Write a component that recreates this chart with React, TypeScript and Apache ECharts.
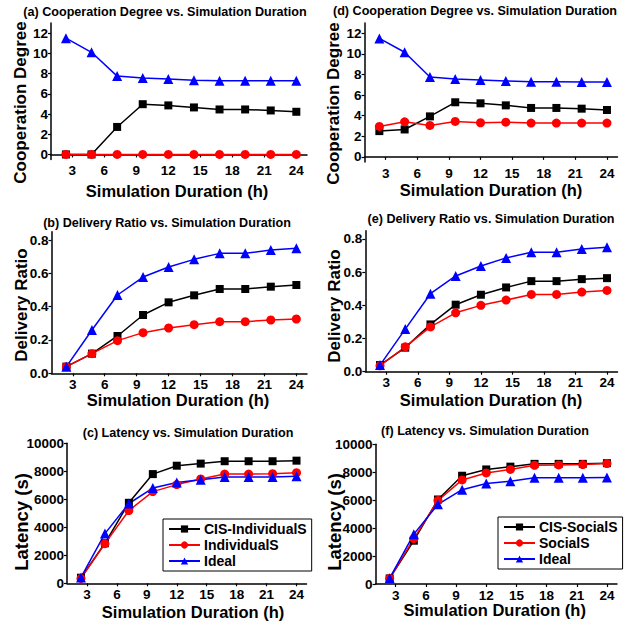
import React, { useEffect, useRef } from "react";
import * as echarts from "echarts";

const durations = [2.4, 4.8, 7.2, 9.6, 12, 14.4, 16.8, 19.2, 21.6, 24];
const xTicks = [3, 6, 9, 12, 15, 18, 21, 24];
const coopTicks = [0, 2, 4, 6, 8, 10, 12];
const ratioTicks = [0, 0.2, 0.4, 0.6, 0.8];
const latencyTicks = [0, 2000, 4000, 6000, 8000, 10000];

// (a) cooperation degree, individual
const coopCISIndividualS = [0, 0, 2.72, 4.97, 4.85, 4.65, 4.45, 4.45, 4.35, 4.22];
const coopIndividualS = [0, 0, 0, 0, 0, 0, 0, 0, 0, 0];
const coopIdealA = [11.5, 10.1, 7.75, 7.55, 7.45, 7.35, 7.3, 7.3, 7.28, 7.28];
// (d) cooperation degree, social
const coopCISSocialS = [2.5, 2.66, 3.93, 5.3, 5.2, 5.0, 4.75, 4.75, 4.68, 4.55];
const coopSocialS = [2.95, 3.4, 3.05, 3.44, 3.31, 3.37, 3.28, 3.28, 3.28, 3.28];
const coopIdealD = [11.5, 10.16, 7.76, 7.56, 7.47, 7.37, 7.3, 7.3, 7.27, 7.27];
// (b) delivery ratio, individual
const ratioCISIndividualS = [0.04, 0.118, 0.224, 0.35, 0.426, 0.468, 0.506, 0.506, 0.52, 0.53];
const ratioIndividualS = [0.04, 0.118, 0.196, 0.244, 0.272, 0.292, 0.31, 0.31, 0.32, 0.326];
const ratioIdealB = [0.04, 0.26, 0.47, 0.578, 0.638, 0.684, 0.72, 0.72, 0.74, 0.75];
// (e) delivery ratio, social
const ratioCISSocialS = [0.04, 0.145, 0.285, 0.404, 0.464, 0.508, 0.546, 0.546, 0.558, 0.564];
const ratioSocialS = [0.036, 0.15, 0.27, 0.355, 0.4, 0.432, 0.466, 0.466, 0.48, 0.49];
const ratioIdealE = [0.04, 0.257, 0.47, 0.577, 0.637, 0.686, 0.72, 0.72, 0.74, 0.75];
// (c) latency, individual
const latCISIndividualS = [400, 2860, 5750, 7800, 8400, 8550, 8720, 8720, 8720, 8760];
const latIndividualS = [350, 2830, 5200, 6550, 7050, 7450, 7800, 7800, 7830, 7900];
const latIdealC = [420, 3550, 5700, 6800, 7200, 7400, 7600, 7600, 7600, 7650];
// (f) latency, social
const latCISSocialS = [400, 3100, 6050, 7750, 8200, 8400, 8600, 8600, 8600, 8650];
const latSocialS = [400, 3250, 5980, 7450, 7950, 8200, 8500, 8520, 8550, 8620];
const latIdealF = [420, 3570, 5700, 6750, 7200, 7350, 7600, 7600, 7600, 7620];

const titles = [
  "(a) Cooperation Degree vs. Simulation Duration",
  "(b) Delivery Ratio vs. Simulation Duration",
  "(c) Latency vs. Simulation Duration",
  "(d) Cooperation Degree vs. Simulation Duration",
  "(e) Delivery Ratio vs. Simulation Duration",
  "(f) Latency vs. Simulation Duration",
];
const xName = "Simulation Duration (h)";
const yNames = ["Cooperation Degree", "Delivery Ratio", "Latency (s)"];
const leftNames = ["CIS-IndividualS", "IndividualS", "Ideal"];
const rightNames = ["CIS-SocialS", "SocialS", "Ideal"];

const FONT = "'Liberation Sans', Arial, sans-serif";

export default function App() {
  const ref = useRef<HTMLDivElement>(null);
  useEffect(() => {
    document.body.style.margin = "0";
    const chart = echarts.init(ref.current!, null, { renderer: "svg" });

    // grid boxes [left, top, right, bottom] in px
    const boxes = [
      [51, 23, 307, 159.5],
      [51.5, 231.7, 307, 373.3],
      [67, 443.3, 306.5, 583.3],
      [364.6, 23, 617.5, 162],
      [365.3, 230.7, 617.5, 371.7],
      [375.6, 444.3, 617, 584],
    ];
    const titlePos = [
      [165, 12.3],
      [167, 223.3],
      [188, 432.7],
      [475, 11],
      [491, 219.3],
      [485, 431],
    ];
    const xNamePos = [
      [177, 190.5],
      [178, 400],
      [193, 611.5],
      [491, 190],
      [491, 400],
      [494.7, 610],
    ];
    const yNamePos = [
      [20, 102.5],
      [21, 305],
      [21.5, 522],
      [333.5, 103.5],
      [334.5, 306],
      [334.5, 522],
    ];
    const yNameSizes = [17, 17, 18.5];
    const yRanges = [
      { min: -0.5, max: 13, ticks: coopTicks, fmt: (v: number) => String(v) },
      { min: 0, max: 0.85, ticks: ratioTicks, fmt: (v: number) => v.toFixed(1) },
      { min: 0, max: 10000, ticks: latencyTicks, fmt: (v: number) => String(v) },
    ];

    const grid = boxes.map((b) => ({
      left: b[0],
      top: b[1],
      width: b[2] - b[0],
      height: b[3] - b[1],
    }));

    const axisLine = { show: true, lineStyle: { color: "#000", width: 1.5 } };
    const labelStyle = { color: "#000", fontWeight: "bold" as const, fontSize: 13.5, fontFamily: FONT };

    const xAxis = boxes.map((_, i) => ({
      type: "value",
      gridIndex: i,
      min: 1,
      max: 25,
      axisLine,
      axisTick: { show: true, length: 3, lineStyle: { color: "#000", width: 1.2 }, customValues: xTicks },
      axisLabel: { ...labelStyle, margin: 4, customValues: xTicks },
      splitLine: { show: false },
    }));

    const yAxis = boxes.map((_, i) => {
      const r = yRanges[i % 3];
      return {
        type: "value",
        gridIndex: i,
        min: r.min,
        max: r.max,
        axisLine,
        axisTick: { show: true, length: 3, lineStyle: { color: "#000", width: 1.2 }, customValues: r.ticks },
        axisLabel: { ...labelStyle, margin: 3, customValues: r.ticks, formatter: r.fmt },
        splitLine: { show: false },
      };
    });

    const dataSets = [
      [coopCISIndividualS, coopIndividualS, coopIdealA],
      [ratioCISIndividualS, ratioIndividualS, ratioIdealB],
      [latCISIndividualS, latIndividualS, latIdealC],
      [coopCISSocialS, coopSocialS, coopIdealD],
      [ratioCISSocialS, ratioSocialS, ratioIdealE],
      [latCISSocialS, latSocialS, latIdealF],
    ];
    const colors = ["#000000", "#ff0000", "#0000ff"];
    const symbols = ["rect", "circle", "triangle"];
    const sizes = [8, 9, 10];

    const series: any[] = [];
    dataSets.forEach((set, gi) => {
      const names = gi < 3 ? leftNames : rightNames;
      set.forEach((vals, si) => {
        series.push({
          type: "line",
          name: names[si],
          xAxisIndex: gi,
          yAxisIndex: gi,
          data: durations.map((d, k) => [d, vals[k]]),
          symbol: symbols[si],
          symbolSize: sizes[si],
          color: colors[si],
          lineStyle: { color: colors[si], width: 1.5 },
          itemStyle: { color: colors[si] },
        });
      });
    });

    const legendBase = {
      orient: "vertical",
      itemWidth: 31,
      itemHeight: 9,
      itemGap: 2,
      padding: [3, 5, 3, 5],
      borderColor: "#000",
      borderWidth: 1,
      borderRadius: 0,
      textStyle: { color: "#000", fontWeight: "bold", fontSize: 14, fontFamily: FONT, padding: [0, 0, 0, -1] },
    };

    const graphics: any[] = [];
    titles.forEach((t, i) => {
      graphics.push({
        type: "text",
        x: titlePos[i][0],
        y: titlePos[i][1],
        style: { text: t, align: "center", verticalAlign: "middle", fill: "#000", font: `bold 12.6px ${FONT}` },
      });
      graphics.push({
        type: "text",
        x: xNamePos[i][0],
        y: xNamePos[i][1],
        style: { text: xName, align: "center", verticalAlign: "middle", fill: "#000", font: `bold 16.5px ${FONT}` },
      });
      graphics.push({
        type: "text",
        x: yNamePos[i][0],
        y: yNamePos[i][1],
        rotation: Math.PI / 2,
        style: {
          text: yNames[i % 3],
          align: "center",
          verticalAlign: "middle",
          fill: "#000",
          font: `bold ${yNameSizes[i % 3]}px ${FONT}`,
        },
      });
    });

    chart.setOption({
      animation: false,
      backgroundColor: "#fff",
      graphic: graphics,
      grid,
      xAxis,
      yAxis,
      series,
      legend: [
        { ...legendBase, data: leftNames, left: 163, top: 519 },
        { ...legendBase, data: rightNames, left: 498, top: 517 },
      ],
    });
    return () => chart.dispose();
  }, []);
  return <div ref={ref} style={{ position: "fixed", left: 0, top: 0, width: 638, height: 623 }} />;
}
